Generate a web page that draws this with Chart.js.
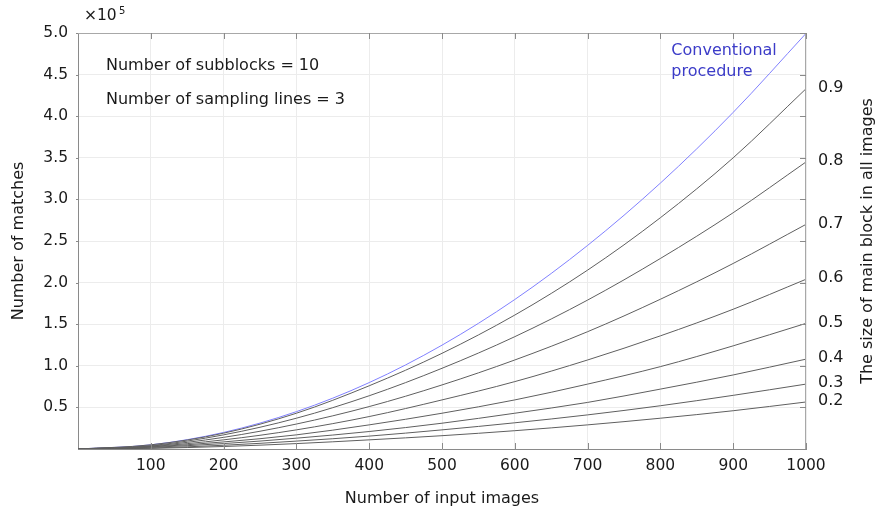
<!DOCTYPE html>
<html>
<head>
<meta charset="utf-8">
<script src="https://cdn.jsdelivr.net/npm/chart.js@4"></script>
<style>
  html, body { margin: 0; padding: 0; background: #fff; }
  #wrap { width: 875px; height: 508px; }
</style>
</head>
<body>
<div id="wrap"><canvas id="matchesChart" width="875" height="508"></canvas></div>
<script>
const inputImages = [0, 100, 200, 300, 400, 500, 600, 700, 800, 900, 1000];

// number of matches, in units of 10^5
const conventional = [0, 0.05, 0.199, 0.449, 0.798, 1.248, 1.797, 2.447, 3.196, 4.046, 4.995];
const size09 = [0, 0.05, 0.19, 0.43, 0.76, 1.15, 1.61, 2.15, 2.78, 3.50, 4.33];
const size08 = [0, 0.04, 0.17, 0.37, 0.64, 0.97, 1.35, 1.79, 2.29, 2.84, 3.45];
const size07 = [0, 0.035, 0.14, 0.30, 0.51, 0.77, 1.07, 1.41, 1.80, 2.23, 2.70];
const size06 = [0, 0.03, 0.11, 0.23, 0.39, 0.59, 0.81, 1.07, 1.36, 1.68, 2.04];
const size05 = [0, 0.025, 0.085, 0.17, 0.29, 0.43, 0.59, 0.78, 0.99, 1.24, 1.51];
const size04 = [0, 0.02, 0.065, 0.13, 0.21, 0.31, 0.43, 0.56, 0.72, 0.89, 1.08];
const size03 = [0, 0.012, 0.045, 0.095, 0.155, 0.23, 0.315, 0.41, 0.52, 0.645, 0.78];
const size02 = [0, 0.008, 0.03, 0.065, 0.11, 0.16, 0.22, 0.29, 0.37, 0.46, 0.565];

const blockSizes = ['0.9', '0.8', '0.7', '0.6', '0.5', '0.4', '0.3', '0.2'];
const blockSeries = [size09, size08, size07, size06, size05, size04, size03, size02];

const xTicks = [100, 200, 300, 400, 500, 600, 700, 800, 900, 1000];
const yTicks = [0.5, 1.0, 1.5, 2.0, 2.5, 3.0, 3.5, 4.0, 4.5, 5.0];

const FONT = 'DejaVu Sans';
const textColor = '#1a1a1a';

function toPoints(values) {
    return values.map((v, i) => ({ x: inputImages[i], y: v }));
}

const datasets = blockSeries.map((series, i) => ({
    label: blockSizes[i],
    data: toPoints(series),
    borderColor: '#5f5f5f',
    borderWidth: 1,
    pointRadius: 0,
    cubicInterpolationMode: 'monotone',
    fill: false,
}));
datasets.push({
    label: 'Conventional procedure',
    data: toPoints(conventional),
    borderColor: '#8080ff',
    borderWidth: 1,
    pointRadius: 0,
    cubicInterpolationMode: 'monotone',
    fill: false,
});

// frame, inward tick marks and the free text around the plot
const annotations = {
    id: 'annotations',
    afterDraw(chart) {
        const ctx = chart.ctx;
        const area = chart.chartArea;
        const xs = chart.scales.x;
        const ys = chart.scales.y;
        ctx.save();

        ctx.strokeStyle = '#a8a8a8';
        ctx.lineWidth = 1;
        ctx.beginPath();
        ctx.moveTo(area.left, area.top + 0.5);
        ctx.lineTo(area.right, area.top + 0.5);
        ctx.moveTo(area.right - 0.5, area.top);
        ctx.lineTo(area.right - 0.5, area.bottom);
        ctx.stroke();

        ctx.strokeStyle = '#8a8a8a';
        ctx.beginPath();
        xTicks.forEach(t => {
            const px = Math.round(xs.getPixelForValue(t)) + 0.5;
            ctx.moveTo(px, area.bottom);
            ctx.lineTo(px, area.bottom - 6);
            ctx.moveTo(px, area.top);
            ctx.lineTo(px, area.top + 6);
        });
        yTicks.forEach(t => {
            const py = Math.round(ys.getPixelForValue(t)) + 0.5;
            ctx.moveTo(area.right, py);
            ctx.lineTo(area.right - 6, py);
            ctx.moveTo(area.left - 2, py);
            ctx.lineTo(area.left, py);
        });
        ctx.stroke();

        ctx.fillStyle = textColor;
        ctx.font = '15.5px ' + FONT;
        ctx.textBaseline = 'middle';
        ctx.textAlign = 'left';
        ctx.fillText('\u00d710', area.left + 6, 16);
        ctx.font = '10px ' + FONT;
        ctx.fillText('5', area.left + 41, 11);

        ctx.font = '16px ' + FONT;
        ctx.fillText('Number of subblocks = 10', area.left + 28, 66);
        ctx.fillText('Number of sampling lines = 3', area.left + 28, 100);

        ctx.fillStyle = '#3c3cc8';
        ctx.fillText('Conventional', xs.getPixelForValue(815), 51);
        ctx.fillText('procedure', xs.getPixelForValue(815), 72);

        ctx.fillStyle = textColor;
        blockSeries.forEach((series, i) => {
            const py = ys.getPixelForValue(series[series.length - 1]);
            ctx.fillText(blockSizes[i], area.right + 12, py - 1);
        });

        ctx.translate(868, (area.top + area.bottom) / 2);
        ctx.rotate(-Math.PI / 2);
        ctx.textAlign = 'center';
        ctx.fillText('The size of main block in all images', 0, 0);
        ctx.restore();
    }
};

const chartElement = document.getElementById('matchesChart').getContext('2d');

new Chart(chartElement, {
    type: 'line',
    data: { datasets: datasets },
    options: {
        responsive: false,
        animation: false,
        devicePixelRatio: 1,
        layout: { padding: { left: 0, right: 69, top: 33, bottom: 0 } },
        plugins: {
            legend: { display: false },
            tooltip: { enabled: false },
        },
        scales: {
            x: {
                type: 'linear',
                min: 0,
                max: 1000,
                afterFit: scale => { scale.height = 59; },
                afterBuildTicks: scale => { scale.ticks = [0].concat(xTicks).map(v => ({ value: v })); },
                ticks: {
                    color: textColor,
                    font: { family: FONT, size: 15.5 },
                    padding: 8,
                    maxRotation: 0,
                    callback: v => (v === 0 ? '' : String(v)),
                },
                grid: { color: '#ececec', drawTicks: false },
                border: { color: '#8a8a8a' },
                title: {
                    display: true,
                    text: 'Number of input images',
                    color: textColor,
                    font: { family: FONT, size: 16 },
                    padding: { top: 3, bottom: 0 },
                },
            },
            y: {
                type: 'linear',
                min: 0,
                max: 5,
                afterFit: scale => { scale.width = 78; },
                afterBuildTicks: scale => { scale.ticks = [0].concat(yTicks).map(v => ({ value: v })); },
                ticks: {
                    color: textColor,
                    font: { family: FONT, size: 15.5 },
                    padding: 10,
                    callback: v => (v === 0 ? '' : v.toFixed(1)),
                },
                grid: { color: '#ececec', drawTicks: false },
                border: { color: '#8a8a8a' },
                title: {
                    display: true,
                    text: 'Number of matches',
                    color: textColor,
                    font: { family: FONT, size: 16 },
                    padding: { top: 9, bottom: 0 },
                },
            },
        },
    },
    plugins: [annotations],
});
</script>
</body>
</html>
